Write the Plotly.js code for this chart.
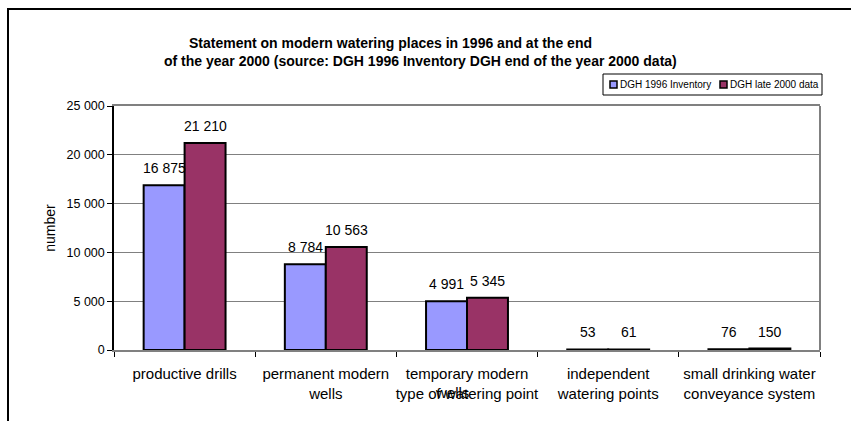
<!DOCTYPE html>
<html>
<head>
<meta charset="utf-8">
<script src="https://cdn.plot.ly/plotly-3.0.1.min.js"></script>
<style>html,body{margin:0;padding:0;background:#fff;}#chart{width:851px;height:421px;}</style>
</head>
<body>
<div id="chart"></div>
<script>
const categories = [
  "productive drills",
  "permanent modern<br>wells",
  "temporary modern<br>type of watering point",
  "independent<br>watering points",
  "small drinking water<br>conveyance system"
];
const seriesNames = ["DGH 1996 Inventory", "DGH late 2000 data"];
const inventory1996 = [16875, 8784, 4991, 53, 76];
const late2000 = [21210, 10563, 5345, 61, 150];
const yTicks = [0, 5000, 10000, 15000, 20000, 25000];
const titleLines = [
  "Statement on modern watering places in 1996 and at the end",
  "of the year 2000 (source: DGH 1996 Inventory DGH end of the year 2000 data)"
];

const W = 851, H = 421;
const L = 114, R = 820, T = 106, B = 350;
const BARGAP = 0.42;
const px = x => (x - L) / (R - L);
const py = y => (B - y) / (B - T);
const FONT = "Liberation Sans, Arial, sans-serif";
const colors = ["#9999FF", "#993366"];
const series = [inventory1996, late2000];

const data = series.map((vals, i) => ({
  type: "bar", name: seriesNames[i], x: categories, y: vals,
  marker: {color: colors[i], line: {color: "#000", width: 2}},
  showlegend: false, hoverinfo: "x+y"
}));

const fmt = v => String(v).replace(/\B(?=(\d{3})+(?!\d))/g, " ");
const barPx = (R - L) / categories.length * (1 - BARGAP) / series.length;

const valueLabels = [];
series.forEach((vals, i) => {
  vals.forEach((v, j) => {
    valueLabels.push({
      xref: "x", yref: "y", x: categories[j], y: v, text: fmt(v),
      xshift: (i - (series.length - 1) / 2) * barPx, yshift: 7,
      showarrow: false, xanchor: "center", yanchor: "bottom",
      font: {family: FONT, size: 14, color: "#000"}
    });
  });
});

const shapes = [
  {type: "rect", xref: "paper", yref: "paper", x0: px(8), x1: px(870), y0: py(440), y1: py(9),
   line: {color: "#000", width: 2}, fillcolor: "rgba(0,0,0,0)"},
  {type: "line", xref: "paper", yref: "paper", x0: 1, x1: 1, y0: 0, y1: 1, line: {color: "#808080", width: 2}},
  {type: "rect", xref: "paper", yref: "paper", x0: px(603), x1: px(822), y0: py(95), y1: py(74),
   line: {color: "#000", width: 1}, fillcolor: "#fff"},
  {type: "rect", xref: "paper", yref: "paper", x0: px(610), x1: px(617), y0: py(88), y1: py(81),
   line: {color: "#000", width: 1.5}, fillcolor: colors[0]},
  {type: "rect", xref: "paper", yref: "paper", x0: px(720), x1: px(727), y0: py(88), y1: py(81),
   line: {color: "#000", width: 1.5}, fillcolor: colors[1]}
];

const annotations = valueLabels.concat([
  {xref: "paper", yref: "paper", x: px(390), y: py(43), text: "<b>" + titleLines[0] + "</b>",
   showarrow: false, xanchor: "center", yanchor: "middle", font: {family: FONT, size: 14, color: "#000"}},
  {xref: "paper", yref: "paper", x: px(420), y: py(61), text: "<b>" + titleLines[1] + "</b>",
   showarrow: false, xanchor: "center", yanchor: "middle", font: {family: FONT, size: 14, color: "#000"}},
  {xref: "paper", yref: "paper", x: px(618), y: py(84.5), text: seriesNames[0],
   showarrow: false, xanchor: "left", yanchor: "middle", font: {family: FONT, size: 10, color: "#000"}},
  {xref: "paper", yref: "paper", x: px(728), y: py(84.5), text: seriesNames[1],
   showarrow: false, xanchor: "left", yanchor: "middle", font: {family: FONT, size: 10, color: "#000"}},
  {xref: "paper", yref: "paper", x: px(452), y: py(392), text: "wells",
   showarrow: false, xanchor: "center", yanchor: "middle", font: {family: FONT, size: 15, color: "#000"}}
]);

const layout = {
  width: W, height: H,
  margin: {l: L, r: W - R, t: T, b: H - B, pad: 0},
  paper_bgcolor: "#fff", plot_bgcolor: "#fff",
  font: {family: FONT, size: 12, color: "#000"},
  separators: ". ",
  barmode: "group", bargap: BARGAP, bargroupgap: 0,
  showlegend: false,
  xaxis: {
    type: "category", tickson: "boundaries", ticks: "outside", ticklen: 5, tickcolor: "#000",
    showline: true, linecolor: "#808080", linewidth: 2, mirror: true,
    showgrid: false, tickfont: {family: FONT, size: 15, color: "#000"}, automargin: false,
    tickangle: 0, ticklabelstandoff: 9
  },
  yaxis: {
    range: [0, 25000], tickvals: yTicks, tickformat: ",d", separatethousands: true,
    ticks: "outside", ticklen: 5, tickcolor: "#000",
    showline: true, linecolor: "#000", linewidth: 1.5,
    showgrid: true, gridcolor: "#808080", gridwidth: 1, zeroline: false,
    tickfont: {family: FONT, size: 12.5, color: "#000"},
    title: {text: "number", font: {family: FONT, size: 14, color: "#000"}, standoff: 8},
    automargin: false
  },
  shapes: shapes,
  annotations: annotations
};

Plotly.newPlot("chart", data, layout, {displayModeBar: false, responsive: false});
</script>
</body>
</html>
